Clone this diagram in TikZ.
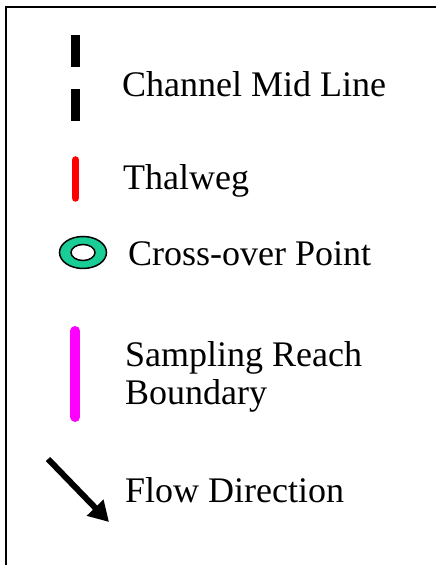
\documentclass[tikz,border=0pt]{standalone}
\usepackage{fontspec}
\setmainfont{Liberation Serif}
\usetikzlibrary{arrows.meta}
\definecolor{crossgreen}{RGB}{26,204,150}
\definecolor{reachpink}{RGB}{255,0,255}
\definecolor{thalred}{RGB}{255,0,0}
\tikzset{
  legendtext/.style={anchor=base west,inner sep=0pt,font=\fontsize{36}{40}\selectfont},
}
\begin{document}
\begin{tikzpicture}[x=1pt,y=1pt]
\useasboundingbox (0,0) rectangle (436,565);

% frame, only top and left edges show
\draw[line width=2pt] (6,0) -- (6,558) -- (436,558);

% channel mid line
\fill[black] (71,530) rectangle (80,498.3);
\fill[black] (71,476) rectangle (80,444);
\node[legendtext] (midline) at (122,468.3) {Channel Mid Line};

% thalweg
\draw[thalred,line width=7.5pt,line cap=round] (75.5,405) -- (75.5,367);
\node[legendtext] (thalweg) at (123,375) {Thalweg};

% cross-over point
\draw[fill=crossgreen,line width=1.5pt,even odd rule]
  (83,312.5) ellipse [x radius=23.5,y radius=16]
  (83,312.5) ellipse [x radius=12,y radius=8];
\node[legendtext] (crossover) at (128,299) {Cross-over Point};

% sampling reach boundary
\draw[reachpink,line width=10pt,line cap=round] (75.3,234) -- (75.3,148);
\node[legendtext] (sampling) at (125,198) {Sampling Reach};
\node[legendtext] (boundary) at (125,160) {Boundary};

% flow direction
\coordinate (flowstart) at (48,106);
\coordinate (flowend) at (109,43);
\draw[line width=6pt,-{Triangle[length=20pt,width=22pt]}] (flowstart) -- (flowend);
\node[legendtext] (flow) at (125,62) {Flow Direction};

\end{tikzpicture}
\end{document}
